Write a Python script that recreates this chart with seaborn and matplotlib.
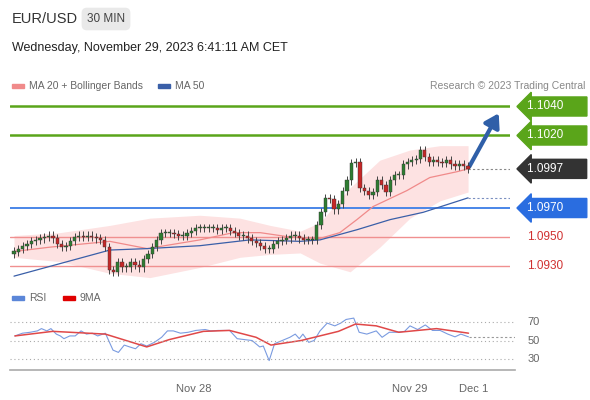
import numpy as np
import pandas as pd
import matplotlib.pyplot as plt
import seaborn as sns

# ---- data -------------------------------------------------------------
closes = [1.0940, 1.0942, 1.0944, 1.0945, 1.0947, 1.0948, 1.0949, 1.0950, 1.0951, 1.0949,
          1.0945, 1.0943, 1.0944, 1.0947, 1.0950, 1.0951, 1.0950, 1.0951, 1.0950, 1.0949,
          1.0948, 1.0943, 1.0927, 1.0926, 1.0933, 1.0929, 1.0929, 1.0933, 1.0931, 1.0929,
          1.0935, 1.0938, 1.0943, 1.0948, 1.0953, 1.0953, 1.0953, 1.0952, 1.0951, 1.0951,
          1.0953, 1.0954, 1.0956, 1.0956, 1.0956, 1.0956, 1.0956, 1.0955, 1.0956, 1.0956,
          1.0954, 1.0953, 1.0951, 1.0951, 1.0949, 1.0947, 1.0946, 1.0944, 1.0942, 1.0942,
          1.0945, 1.0947, 1.0948, 1.0949, 1.0951, 1.0951, 1.0949, 1.0948, 1.0948, 1.0948,
          1.0958, 1.0967, 1.0977, 1.0976, 1.0969, 1.0973, 1.0982, 1.0989, 1.1001, 1.1002,
          1.0984, 1.0982, 1.0979, 1.0981, 1.0989, 1.0986, 1.0981, 1.0989, 1.0993, 1.0993,
          1.1000, 1.1002, 1.1003, 1.1004, 1.1010, 1.1005, 1.1002, 1.1003, 1.1002, 1.1001,
          1.1003, 1.1000, 1.0999, 1.1000, 1.0999, 1.0997]
first_open = 1.0938
wick = 0.00028

ma20_bar = [0, 8, 21.3, 29.6, 41.3, 48.7, 54.7, 61.3, 68, 72.4, 76.2, 79.8, 87.3, 92.4, 98.4, 100.9]
ma20_val = [1.0940, 1.0943, 1.0947, 1.0942, 1.0948, 1.0953, 1.0953, 1.0950, 1.0949, 1.0953,
            1.0962, 1.0971, 1.0982, 1.0991, 1.0995, 1.0997]
ma50_bar = [0, 21.3, 29.6, 41.3, 52.4, 63.6, 68, 76.2, 83.6, 90.9, 100.9]
ma50_val = [1.0923, 1.0941, 1.0942, 1.0944, 1.0948, 1.0947, 1.0948, 1.0955, 1.0962, 1.0967, 1.0977]
bb_bar = [0, 10.2, 21.3, 30.2, 41.3, 50.2, 56.9, 63.6, 68, 74.7, 81.3, 88, 94.7, 100.9]
bb_up = [1.0951, 1.0953, 1.0958, 1.0963, 1.0965, 1.0963, 1.0958, 1.0954, 1.0960, 1.0984,
         1.1003, 1.1010, 1.1013, 1.1013]
bb_lo = [1.0936, 1.0933, 1.0925, 1.0922, 1.0929, 1.0936, 1.0938, 1.0939, 1.0932, 1.0926,
         1.0943, 1.0963, 1.0975, 1.0981]

rsi_bar = [0.2, 1.9, 3.6, 5.2, 6.1, 7.3, 8.2, 9.4, 10.3, 11.1, 12.4, 13.6, 14.9, 16.1, 17.4, 18.6,
           20.3, 22, 23.2, 24.5, 25.7, 27, 28.2, 29.5, 31.2, 32.8, 34.1, 35.4, 37, 38.7, 40.4,
           42.5, 43.7, 45.4, 47.9, 49.6, 51.2, 52.9, 54.6, 55.4, 56.7, 57.9, 59.6, 61.3, 62.5,
           63.4, 64.2, 65.5, 66.7, 68, 69.6, 71.3, 72.6, 73.8, 75.5, 76.7, 78.4, 80.5, 81.8,
           83.4, 85.1, 86.8, 88, 89.7, 91.4, 93, 94.7, 96.4, 98, 99.3, 101]
rsi_val = [55, 58, 59, 60.5, 63, 60.5, 63, 57, 55, 52, 55, 55, 60.5, 57, 58, 55, 58, 39.5, 37, 45,
           43, 41, 46.5, 44, 48, 53.5, 60.5, 60.5, 58, 59, 61, 62, 60.5, 61, 61, 52, 51, 50, 43,
           44, 28, 46.5, 50, 53.5, 57, 52, 57, 48, 50, 60.5, 69, 66, 69, 73, 74.5, 59, 57, 60.5,
           53.5, 59, 59, 60, 66, 62, 67, 61, 61, 57, 54, 57, 54]
ma9_bar = [0.2, 8.6, 20.3, 29.5, 34.5, 42.1, 47.9, 53.8, 57.1, 63.8, 72.1, 75.9, 80.5, 85.5, 93.9, 101]
ma9_val = [55, 60, 57, 43, 51, 60, 61, 53.5, 45, 50, 60, 68, 66, 59, 63, 58]

levels = {'1.1040': 1.1040, '1.1020': 1.1020, '1.0970': 1.0970, '1.0950': 1.0950, '1.0930': 1.0930}
last_price = 1.0997
tick_px = {'Nov 28': 194, 'Nov 29': 410, 'Dec 1': 474}

# ---- setup ------------------------------------------------------------
sns.set_style('white')
plt.rcParams['font.family'] = ['Liberation Sans', 'DejaVu Sans']
W, H = 590, 400
fig = plt.figure(figsize=(W / 100, H / 100), dpi=100)

def rect(x0, y0, x1, y1):
    return [x0 / W, 1 - y1 / H, (x1 - x0) / W, (y1 - y0) / H]

def px2p(y):
    return 1.0930 + (266 - y) / 14500

step = 4.5
n = len(closes)
last_bar = 100.9
cx = np.arange(n) * last_bar / (n - 1)
cw = 0.75 * last_bar / (n - 1)
xlim = ((10 - 14) / step, (510 - 14) / step)

GREEN = '#5aa51a'
BLUE = '#4a86e8'

# ---- main price panel -------------------------------------------------
ax = fig.add_axes(rect(10, 96, 510, 285))
ax.set_xlim(*xlim)
ax.set_ylim(px2p(285), px2p(96))
ax.axis('off')

ax.fill_between(bb_bar, bb_lo, bb_up, color='#fde2e2', lw=0, zorder=1)
df20 = pd.DataFrame({'bar': ma20_bar, 'v': ma20_val})
df50 = pd.DataFrame({'bar': ma50_bar, 'v': ma50_val})
sns.lineplot(data=df20, x='bar', y='v', ax=ax, color='#f08a8a', lw=0.9, zorder=3)
sns.lineplot(data=df50, x='bar', y='v', ax=ax, color='#3a5fa8', lw=0.9, zorder=3)

opens = [first_open] + closes[:-1]
for x, o, c in zip(cx, opens, closes):
    col = '#2e7d32' if c >= o else '#c62828'
    ax.vlines(x, min(o, c) - wick, max(o, c) + wick, color='#444444', lw=0.7, zorder=4)
    h = max(abs(c - o), 0.00007)
    ax.bar(x, h, bottom=min(o, c), width=cw, color=col, edgecolor='#333333', lw=0.3, zorder=5)

for name, v in levels.items():
    if v > 1.1:
        ax.axhline(v, color=GREEN, lw=1.8, zorder=2)
    elif v == 1.0970:
        ax.axhline(v, color=BLUE, lw=1.4, zorder=2)
    else:
        ax.axhline(v, color='#f09090', lw=1.0, zorder=2)

ax.plot([cx[-1], xlim[1]], [last_price, last_price], ls=(0, (2, 2)), color='#888888', lw=0.8)
ax.plot([ma50_bar[-1], xlim[1]], [ma50_val[-1], ma50_val[-1]], ls=(0, (2, 2)), color='#7a8fc0', lw=0.8)
ax.annotate('', xy=(cx[-1] + 32 / step, 1.1037), xytext=(cx[-1], last_price),
            arrowprops=dict(arrowstyle='-|>,head_width=0.5,head_length=0.8', color='#2f5fa8', lw=3))

# price labels
trans = ax.get_yaxis_transform()
def tag(v, text, fc):
    ax.text(1.035, v, text, transform=trans, ha='left', va='center', color='white', fontsize=8.5,
            bbox=dict(boxstyle='larrow,pad=0.3', fc=fc, ec=fc))
tag(1.1040, '1.1040      ', GREEN)
tag(1.1020, '1.1020      ', GREEN)
tag(last_price, '1.0997      ', '#333333')
tag(1.0970, '1.0970      ', '#2a6de0')
for v in (1.0950, 1.0930):
    ax.text(1.035, v, f'{v:.4f}', transform=trans, ha='left', va='center', color='#d03030', fontsize=8.5)

# ---- RSI panel --------------------------------------------------------
rx = fig.add_axes(rect(10, 310, 515, 370))
rx.set_xlim(xlim[0], (515 - 14) / step)
rx.set_ylim(30 - 11 / 0.9, 70 + 12 / 0.9)
dfr = pd.DataFrame({'bar': rsi_bar, 'v': rsi_val})
dfm = pd.DataFrame({'bar': ma9_bar, 'v': ma9_val})
sns.lineplot(data=dfr, x='bar', y='v', ax=rx, color='#7a9be0', lw=0.8)
sns.lineplot(data=dfm, x='bar', y='v', ax=rx, color='#e04848', lw=1.1)
for lv in (70, 50, 30):
    rx.axhline(lv, color='#aaaaaa', ls=(0, (1, 2.5)), lw=0.8)
    rx.text(1.025, lv, str(lv), transform=rx.get_yaxis_transform(), ha='left', va='center',
            color='#666666', fontsize=8)
rx.plot([rsi_bar[-1], rx.get_xlim()[1]], [rsi_val[-1], rsi_val[-1]], ls=(0, (2, 2)), color='#999999', lw=0.8)
for s in ('top', 'right', 'left'):
    rx.spines[s].set_visible(False)
rx.spines['bottom'].set_color('#aaaaaa')
rx.spines['bottom'].set_linewidth(1.2)
rx.set_xlabel('')
rx.set_ylabel('')
rx.set_yticks([])
rx.set_xticks([(p - 14) / step for p in tick_px.values()])
rx.set_xticklabels(list(tick_px.keys()), color='#666666', fontsize=8)
rx.tick_params(axis='x', length=4, color='#aaaaaa', pad=6)

# ---- header & legends -------------------------------------------------
fig.text(12 / W, 1 - 19 / H, 'EUR/USD', fontsize=10.5, color='#333333', va='center')
fig.text(106 / W, 1 - 19 / H, '30 MIN', fontsize=8.5, color='#444444', va='center', ha='center',
         bbox=dict(boxstyle='round,pad=0.45', fc='#e9e9e9', ec='none'))
fig.text(12 / W, 1 - 48 / H, 'Wednesday, November 29, 2023 6:41:11 AM CET', fontsize=9,
         color='#222222', va='center')

def legend_item(x, y, col, label):
    fig.patches.append(plt.Rectangle((x / W, 1 - (y + 2) / H), 12 / W, 4 / H, color=col,
                                     transform=fig.transFigure))
    fig.text((x + 17) / W, 1 - y / H, label, fontsize=7.5, color='#666666', va='center')

legend_item(12, 86, '#f08a8a', 'MA 20 + Bollinger Bands')
legend_item(158, 86, '#3a5fa8', 'MA 50')
fig.text(585 / W, 1 - 86 / H, 'Research © 2023 Trading Central', fontsize=7.5, color='#888888',
         va='center', ha='right')
legend_item(12, 298, '#5b86d8', 'RSI')
legend_item(63, 298, '#e00000', '9MA')

fig.savefig('out.png', dpi=100)
